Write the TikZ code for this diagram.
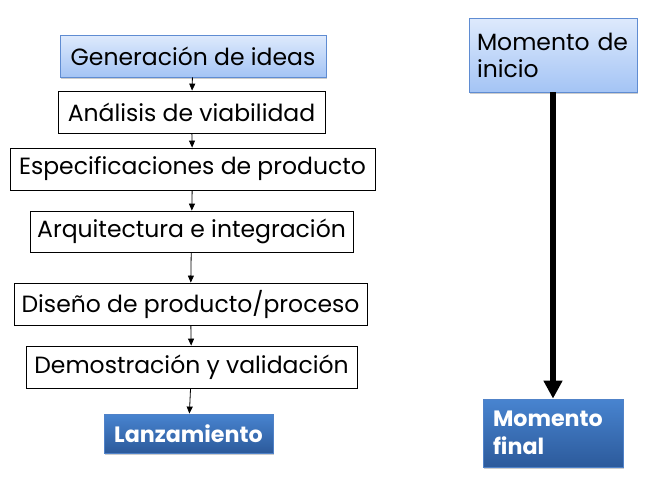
\documentclass[tikz,border=0pt]{standalone}
\usepackage{fontspec}
\setmainfont{Poppins}
\usetikzlibrary{arrows.meta,shadows}
\definecolor{lbTop}{RGB}{222,234,252}
\definecolor{lbBot}{RGB}{164,196,245}
\definecolor{lbDraw}{RGB}{95,140,210}
\definecolor{dbTop}{RGB}{72,132,208}
\definecolor{dbBot}{RGB}{44,90,155}
\definecolor{dbDraw}{RGB}{80,130,200}
\begin{document}
\begin{tikzpicture}[x=1pt,y=-1pt,
  txt/.style={font=\fontsize{23.5}{27}\selectfont},
  wbox/.style={txt,draw=black,line width=0.8pt,fill=white,inner sep=0pt,minimum height=42pt},
  lbox/.style={txt,draw=lbDraw,line width=0.8pt,top color=lbTop,bottom color=lbBot,inner sep=0pt,
     drop shadow={shadow xshift=1pt,shadow yshift=-2pt,fill=black!40,opacity=0.5}},
  dbox/.style={font=\fontsize{22.2}{28}\selectfont\bfseries,text=white,draw=dbDraw,line width=0.8pt,top color=dbTop,bottom color=dbBot,inner sep=0pt,
     drop shadow={shadow xshift=1pt,shadow yshift=-2pt,fill=black!40,opacity=0.5}},
  thin/.style={line width=0.8pt,-{Triangle[length=7pt,width=6pt]}},
  thick/.style={line width=6pt,-{Triangle[length=18pt,width=18pt]}}
]
\useasboundingbox (0,0) rectangle (662,498);
\node[lbox,minimum width=266pt,minimum height=42pt] (gen) at (193,56) {Generación de ideas};
\node[wbox,minimum width=267pt] (ana) at (191.5,112) {Análisis de viabilidad};
\node[wbox,minimum width=365pt] (esp) at (192.5,169) {Especificaciones de producto};
\node[wbox,minimum width=323pt,minimum height=41pt] (arq) at (191.5,231.5) {Arquitectura e integración};
\node[wbox,minimum width=353pt] (dis) at (190.5,304) {Diseño de producto/proceso};
\node[wbox,minimum width=331pt] (dem) at (191.5,367) {Demostración y validación};
\node[dbox,minimum width=169pt,minimum height=39pt] (lan) at (188.5,433.5) {Lanzamiento};
\node[lbox,minimum height=74pt,text width=152pt,inner xsep=8pt,align=left] (ini) at (553,55) {Momento de\\inicio};
\node[dbox,minimum height=68pt,text width=120pt,inner xsep=10pt,align=left] (fin) at (553,433) {Momento\\final};
\draw[thin] (gen) -- (ana);
\draw[thin] (ana) -- (esp);
\draw[thin] (esp) -- (arq);
\draw[thin] (arq) -- (dis);
\draw[thin] (dis) -- (dem);
\draw[thin] (dem) -- (lan);
\draw[thick] (ini) -- (fin);
\end{tikzpicture}
\end{document}
